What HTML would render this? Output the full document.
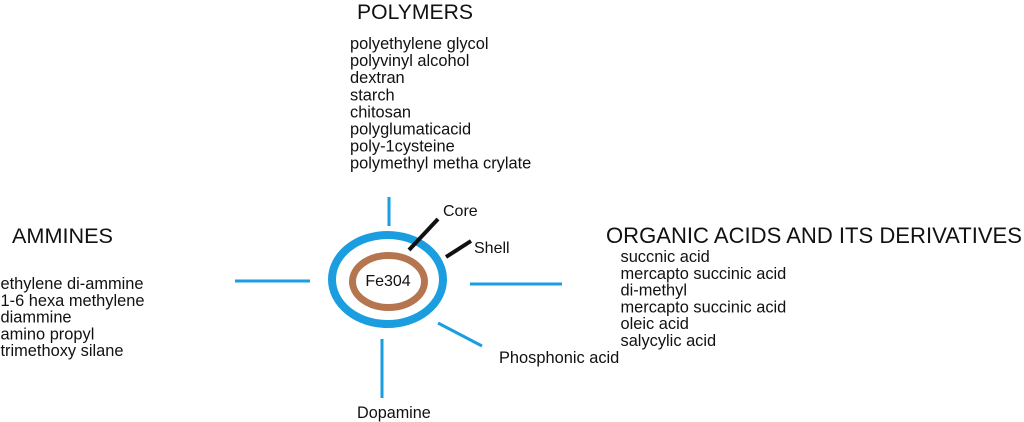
<!DOCTYPE html>
<html>
<head>
<meta charset="utf-8">
<style>
  html, body { margin: 0; padding: 0; background: #ffffff; }
  body { width: 1024px; height: 422px; overflow: hidden; }
  svg { display: block; }
  text { font-family: "Liberation Sans", Arial, sans-serif; fill: #111111; }
</style>
</head>
<body>
<svg width="1024" height="422" viewBox="0 0 1024 422" xmlns="http://www.w3.org/2000/svg">
  <rect x="0" y="0" width="1024" height="422" fill="#ffffff"/>

  <!-- Headings -->
  <text x="357" y="19" font-size="21" textLength="116" lengthAdjust="spacingAndGlyphs">POLYMERS</text>
  <text x="12" y="243" font-size="21.5" textLength="101" lengthAdjust="spacingAndGlyphs">AMMINES</text>
  <text x="606" y="243" font-size="21.8" textLength="416" lengthAdjust="spacingAndGlyphs">ORGANIC ACIDS AND ITS DERIVATIVES</text>

  <!-- Polymers list -->
  <g font-size="16.4">
    <text x="350" y="49">polyethylene glycol</text>
    <text x="350" y="66.1">polyvinyl alcohol</text>
    <text x="350" y="83.2">dextran</text>
    <text x="350" y="100.3">starch</text>
    <text x="350" y="117.4">chitosan</text>
    <text x="350" y="134.5">polyglumaticacid</text>
    <text x="350" y="151.6">poly-1cysteine</text>
    <text x="350" y="168.7">polymethyl metha crylate</text>
  </g>

  <!-- Ammines list -->
  <g font-size="16.4">
    <text x="0.5" y="289">ethylene di-ammine</text>
    <text x="0.5" y="305.75">1-6 hexa methylene</text>
    <text x="0.5" y="322.5">diammine</text>
    <text x="0.5" y="339.25">amino propyl</text>
    <text x="0.5" y="356">trimethoxy silane</text>
  </g>

  <!-- Organic acids list -->
  <g font-size="16.4">
    <text x="620.5" y="262">succnic acid</text>
    <text x="620.5" y="278.75">mercapto succinic acid</text>
    <text x="620.5" y="295.5">di-methyl</text>
    <text x="620.5" y="312.25">mercapto succinic acid</text>
    <text x="620.5" y="329">oleic acid</text>
    <text x="620.5" y="345.75">salycylic acid</text>
  </g>

  <!-- Blue spokes -->
  <g stroke="#1a9ee0" stroke-width="3" stroke-linecap="butt">
    <line x1="389" y1="197" x2="389" y2="226"/>
    <line x1="235" y1="281" x2="310" y2="281"/>
    <line x1="470" y1="284" x2="562" y2="284"/>
    <line x1="382" y1="339" x2="382" y2="398"/>
    <line x1="438" y1="323" x2="482" y2="346"/>
  </g>

  <!-- Shell (blue) and core (brown) -->
  <ellipse cx="387.5" cy="279.5" rx="55.5" ry="44.5" fill="none" stroke="#1a9ee0" stroke-width="8"/>
  <ellipse cx="388.5" cy="281.5" rx="36" ry="26" fill="none" stroke="#b5754f" stroke-width="7"/>

  <!-- Black leader lines -->
  <g stroke="#111111" stroke-width="4" stroke-linecap="butt">
    <line x1="409" y1="250" x2="438" y2="219"/>
    <line x1="446" y1="257" x2="471" y2="241"/>
  </g>

  <!-- Labels -->
  <text x="388" y="286" font-size="16" text-anchor="middle">Fe304</text>
  <text x="443" y="216" font-size="16">Core</text>
  <text x="474" y="253" font-size="16">Shell</text>
  <text x="499" y="363" font-size="16.4">Phosphonic acid</text>
  <text x="357" y="418" font-size="16.2">Dopamine</text>
</svg>
</body>
</html>
